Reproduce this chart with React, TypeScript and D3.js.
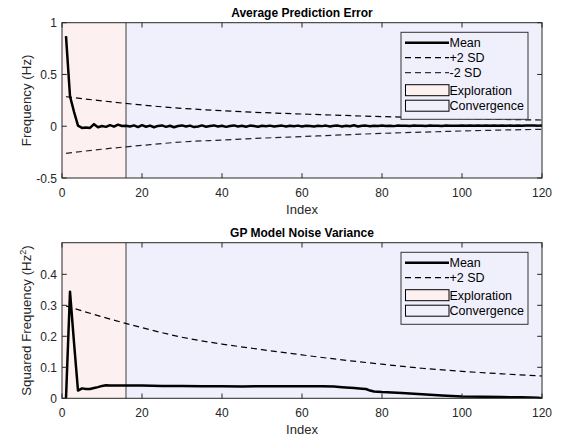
import React from 'react';
import * as d3 from "d3";

// constants
const width = 564;
const height = 440;
const plotLeft = 62;
const plotRight = 542;
const font = "Arial, 'Liberation Sans', Helvetica, sans-serif";
const axisColor = "#262626";
const exploreFill = "#fdf0f0";
const convergeFill = "#f0f0fd";

// data
const xTicks = [0, 20, 40, 60, 80, 100, 120];
const explorationEnd = 16;

const errorMean = [
  0.87, 0.29, 0.14, 0.005, -0.016, -0.012, -0.016, 0.02, -0.01, 0.002,
  -0.006, 0.01, -0.004, 0.015, 0.002, 0.005, -0.003, 0.008, -0.008, 0.01,
  -0.005, 0.006, -0.01, 0.003, 0.008, -0.006, 0.005, -0.01, 0.002, 0.008,
  -0.003, 0.006, -0.008, -0.002, 0.008, -0.005, 0.003, 0.008, -0.003, 0.005,
  -0.006, 0.002, 0.008, -0.002, 0.005, -0.005, 0.006, 0.002, -0.005, 0.005,
  0.0, 0.006, -0.003, 0.003, 0.006, -0.003, 0.005, 0.0, 0.006, -0.002,
  0.005, 0.002, -0.003, 0.005, 0.001, 0.006, -0.002, 0.004, 0.006, -0.002,
  0.005, 0.0, 0.01, -0.003, 0.004, 0.006, 0.0, 0.005, 0.003, 0.006,
  0.002, 0.005, 0.001, 0.006, 0.004, 0.005, 0.002, 0.006, 0.004, 0.005,
  0.003, 0.006, 0.004, 0.005, 0.003, 0.006, 0.005, 0.005, 0.004, 0.006,
  0.005, 0.006, 0.004, 0.006, 0.005, 0.006, 0.005, 0.006, 0.005, 0.006,
  0.005, 0.006, 0.005, 0.006, 0.005, 0.006, 0.006, 0.006, 0.005, 0.006
];
const sdIndex = [1, 10, 20, 30, 40, 50, 60, 70, 80, 90, 100, 110, 120];
const errorPlus2 = [0.285, 0.245, 0.205, 0.173, 0.15, 0.132, 0.118, 0.105, 0.093, 0.083, 0.074, 0.066, 0.06];
const errorMinus2 = [-0.262, -0.222, -0.185, -0.152, -0.133, -0.115, -0.1, -0.084, -0.069, -0.057, -0.046, -0.037, -0.03];

const noiseIndex = [1, 2, 3, 4, 5, 6, 7, 8, 9, 10, 11, 12, 14, 16, 18, 20, 25, 30, 35, 40, 45, 50, 55, 60, 65, 68, 70, 73, 75, 76, 77, 78, 80, 85, 90, 95, 100, 105, 110, 115, 119, 120];
const noiseMean = [0, 0.344, 0.18, 0.025, 0.032, 0.03, 0.03, 0.033, 0.036, 0.04, 0.042, 0.041, 0.041, 0.041, 0.041, 0.041, 0.04, 0.04, 0.039, 0.039, 0.038, 0.039, 0.039, 0.039, 0.039, 0.038, 0.036, 0.033, 0.031, 0.03, 0.025, 0.022, 0.02, 0.017, 0.013, 0.009, 0.006, 0.005, 0.004, 0.003, 0.002, 0];
const noisePlus2 = [0.298, 0.263, 0.228, 0.197, 0.175, 0.157, 0.14, 0.124, 0.11, 0.097, 0.087, 0.079, 0.072];

const x = d3.scaleLinear().domain([0, 120]).range([plotLeft, plotRight]);

type Series = { xs: number[], ys: number[], color: string, width: number, dash?: string, smooth?: boolean };
type LegendItem = { label: string, kind: "line" | "patch", color: string, width?: number, dash?: string };

const Panel = ({ top, bottom, yDomain, yTicks, yLabel, title, series, legend }: {
  top: number, bottom: number, yDomain: number[], yTicks: number[], yLabel: React.ReactNode,
  title: string, series: Series[], legend: LegendItem[]
}) => {
  const y = d3.scaleLinear().domain(yDomain).range([bottom, top]);
  const tickLen = 4.8;
  const legendX = 401;
  const legendW = 127;
  const rowY = (i: number) => {
    // lines are 15 apart, patches 16
    let yy = top + 20;
    for (let k = 0; k < i; k++) yy += legend[k + 1].kind === "patch" ? (legend[k].kind === "patch" ? 15.5 : 17.5) : 15;
    return yy;
  };
  const legendH = rowY(legend.length - 1) - top + 4;
  return (
    <g>
      <rect x={x(0)} y={top} width={x(explorationEnd) - x(0)} height={bottom - top} fill={exploreFill} />
      <rect x={x(explorationEnd)} y={top} width={x(120) - x(explorationEnd)} height={bottom - top} fill={convergeFill} />
      <line x1={x(explorationEnd)} x2={x(explorationEnd)} y1={top} y2={bottom} stroke="#7a7a7a" strokeWidth={1.5} />
      <defs>
        <clipPath id={`clip${top}`}>
          <rect x={plotLeft} y={top} width={plotRight - plotLeft} height={bottom - top} />
        </clipPath>
      </defs>
      <g clipPath={`url(#clip${top})`}>
        {series.map((s, i) => {
          const line = d3.line<number>()
            .x((d, j) => x(s.xs[j]))
            .y(d => y(d))
            .curve(s.smooth ? d3.curveMonotoneX : d3.curveLinear);
          return <path key={i} d={line(s.ys) || ""} fill="none" stroke={s.color} strokeWidth={s.width}
            strokeDasharray={s.dash} strokeLinejoin="round" />;
        })}
      </g>
      {/* box and ticks */}
      <rect x={plotLeft} y={top} width={plotRight - plotLeft} height={bottom - top} fill="none" stroke={axisColor} strokeWidth={1} />
      {xTicks.map(t => (
        <g key={t}>
          <line x1={x(t)} x2={x(t)} y1={bottom} y2={bottom - tickLen} stroke={axisColor} />
          <line x1={x(t)} x2={x(t)} y1={top} y2={top + tickLen} stroke={axisColor} />
          <text x={x(t)} y={bottom + 19} textAnchor="middle" fontSize={12} fill={axisColor} fontFamily={font}>{t}</text>
        </g>
      ))}
      {yTicks.map(t => (
        <g key={t}>
          <line x1={plotLeft} x2={plotLeft + tickLen} y1={y(t)} y2={y(t)} stroke={axisColor} />
          <line x1={plotRight} x2={plotRight - tickLen} y1={y(t)} y2={y(t)} stroke={axisColor} />
          <text x={plotLeft - 5} y={y(t) + 4.5} textAnchor="end" fontSize={12} fill={axisColor} fontFamily={font}>{t}</text>
        </g>
      ))}
      <text x={(plotLeft + plotRight) / 2} y={top - 6} textAnchor="middle" fontSize={12} fontWeight="bold" fill="#000" fontFamily={font}>{title}</text>
      <text x={(plotLeft + plotRight) / 2} y={bottom + 36} textAnchor="middle" fontSize={13} fill={axisColor} fontFamily={font}>Index</text>
      <text transform={`translate(${plotLeft - 31},${(top + bottom) / 2}) rotate(-90)`} textAnchor="middle" fontSize={13.3} fill={axisColor} fontFamily={font}>{yLabel}</text>
      {/* legend */}
      <rect x={legendX} y={top + 9.6} width={legendW} height={legendH} fill={convergeFill} stroke="#333" strokeWidth={1} />
      {legend.map((item, i) => {
        const yy = rowY(i);
        return (
          <g key={item.label}>
            {item.kind === "line"
              ? <line x1={405} x2={449} y1={yy} y2={yy} stroke={item.color} strokeWidth={item.width} strokeDasharray={item.dash} />
              : <rect x={405.5} y={yy - 5.5} width={43.5} height={11} fill={item.color} stroke="#000" strokeWidth={1} />}
            <text x={449.5} y={yy + 4.5} fontSize={12.5} fill="#000" fontFamily={font}>{item.label}</text>
          </g>
        );
      })}
    </g>
  );
};

const indexAll = errorMean.map((d, i) => i + 1);

const App = () => {
  return (
    <div style={{ position: "absolute", left: 0, top: 0 }}>
      <svg width={width} height={height} style={{ display: "block", background: "#fff" }}>
        <Panel
          top={22.7} bottom={178} yDomain={[-0.5, 1]} yTicks={[-0.5, 0, 0.5, 1]}
          yLabel="Frequency (Hz)" title="Average Prediction Error"
          series={[
            { xs: sdIndex, ys: errorPlus2, color: "#000", width: 1.2, dash: "6,4", smooth: true },
            { xs: sdIndex, ys: errorMinus2, color: "#222", width: 1.2, dash: "6,4", smooth: true },
            { xs: indexAll, ys: errorMean, color: "#000", width: 2.5 },
          ]}
          legend={[
            { label: "Mean", kind: "line", color: "#000", width: 2.5 },
            { label: "+2 SD", kind: "line", color: "#000", width: 1.2, dash: "6,4" },
            { label: "-2 SD", kind: "line", color: "#333", width: 1.2, dash: "6,4" },
            { label: "Exploration", kind: "patch", color: exploreFill },
            { label: "Convergence", kind: "patch", color: convergeFill },
          ]}
        />
        <Panel
          top={242.7} bottom={398.3} yDomain={[0, 0.502]} yTicks={[0, 0.1, 0.2, 0.3, 0.4]}
          yLabel={<tspan>Squared Frequency (Hz<tspan dy={-5} fontSize={9}>2</tspan><tspan dy={5}>)</tspan></tspan>}
          title="GP Model Noise Variance"
          series={[
            { xs: sdIndex, ys: noisePlus2, color: "#000", width: 1.2, dash: "6,4", smooth: true },
            { xs: noiseIndex, ys: noiseMean, color: "#000", width: 2.5 },
          ]}
          legend={[
            { label: "Mean", kind: "line", color: "#000", width: 2.5 },
            { label: "+2 SD", kind: "line", color: "#000", width: 1.2, dash: "6,4" },
            { label: "Exploration", kind: "patch", color: exploreFill },
            { label: "Convergence", kind: "patch", color: convergeFill },
          ]}
        />
      </svg>
    </div>
  );
};

export default App;
